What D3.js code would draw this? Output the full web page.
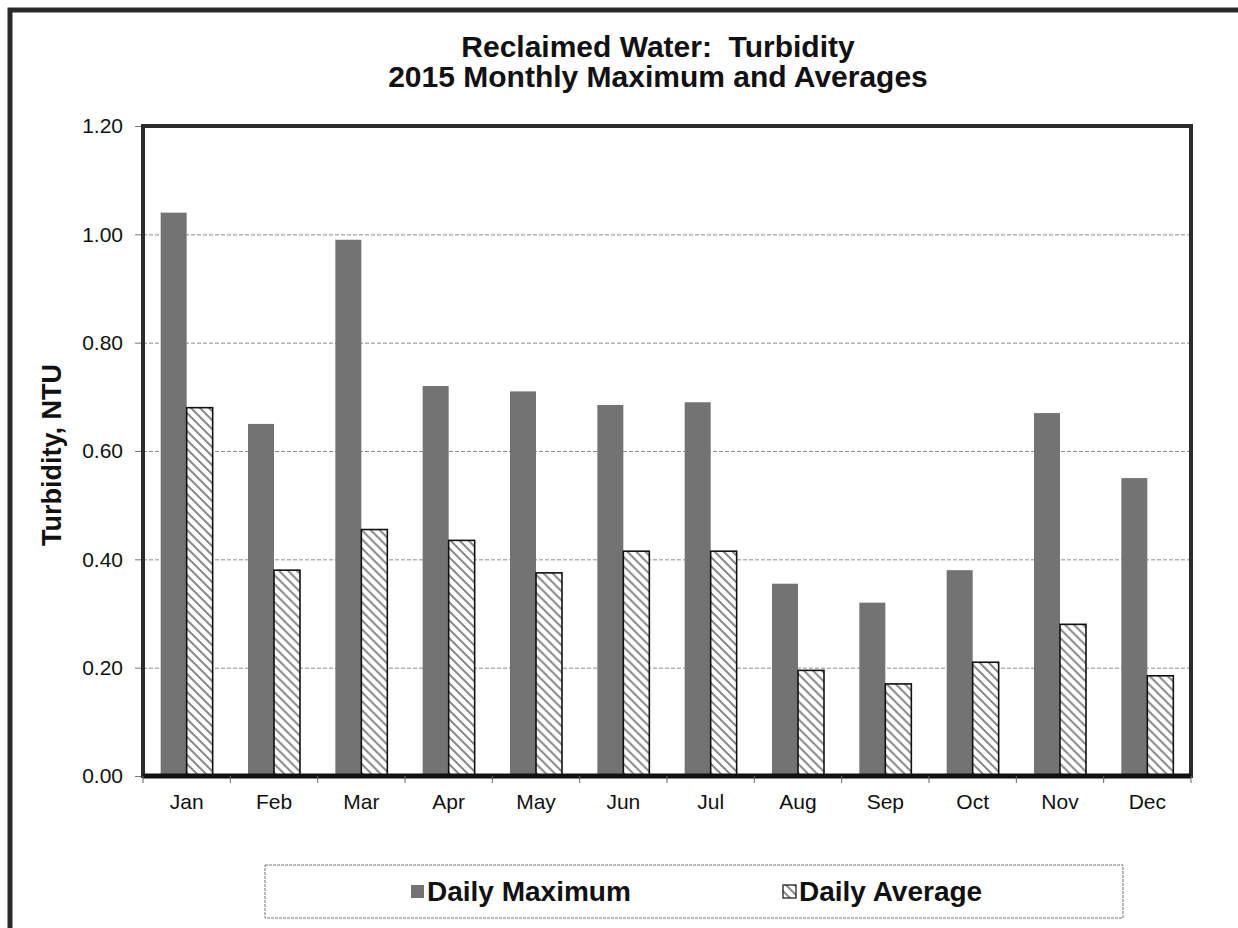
<!DOCTYPE html>
<html>
<head>
<meta charset="utf-8">
<script src="https://cdn.jsdelivr.net/npm/d3@7"></script>
<style>
  body { margin: 0; background: #fff; }
  svg { font-family: "Liberation Sans", Arial, sans-serif; display: block; }
</style>
</head>
<body>
<script>
// chart data
var months = ['Jan','Feb','Mar','Apr','May','Jun','Jul','Aug','Sep','Oct','Nov','Dec'];
var dailyMax = [1.04, 0.65, 0.99, 0.72, 0.71, 0.685, 0.69, 0.355, 0.32, 0.38, 0.67, 0.55];
var dailyAvg = [0.68, 0.38, 0.455, 0.435, 0.375, 0.415, 0.415, 0.195, 0.17, 0.21, 0.28, 0.185];
var yTicks = [0, 0.2, 0.4, 0.6, 0.8, 1.0, 1.2];
var seriesNames = ['Daily Maximum', 'Daily Average'];

var w = 1238, h = 928;
var svg = d3.select('body').append('svg').attr('width', w).attr('height', h);

// hatch pattern for the average bars
var defs = svg.append('defs');
var pat = defs.append('pattern')
  .attr('id', 'hatch')
  .attr('patternUnits', 'userSpaceOnUse')
  .attr('width', 9).attr('height', 9);
pat.append('rect').attr('width', 9).attr('height', 9).attr('fill', '#fff');
pat.append('path')
  .attr('d', 'M0,0 L9,9 M-2,7 L2,11 M7,-2 L11,2')
  .attr('stroke', '#8a8a8a').attr('stroke-width', 2);

// outer frame (runs off the right and bottom)
svg.append('rect')
  .attr('x', 10).attr('y', 10).attr('width', 1260).attr('height', 960)
  .attr('fill', 'none').attr('stroke', '#2a2a2a').attr('stroke-width', 5);

var plotL = 143, plotR = 1191, plotT = 126, plotB = 776;

var x = d3.scaleBand().domain(months).range([plotL, plotR]).padding(0);
var x1 = d3.scaleBand().domain(seriesNames).range([0, x.bandwidth()])
  .paddingInner(0).paddingOuter(0.68);
var y = d3.scaleLinear().domain([0, 1.2]).range([plotB, plotT]);

// gridlines
svg.append('g')
  .attr('transform', 'translate(' + plotL + ',0)')
  .call(d3.axisLeft(y).tickValues(yTicks.slice(1, -1)).tickSize(-(plotR - plotL)).tickFormat(''))
  .call(function(g){
    g.select('.domain').remove();
    g.selectAll('line').attr('stroke', '#8c8c8c').attr('stroke-width', 1).attr('stroke-dasharray', '4,2');
  });

// bars
var groups = svg.append('g').selectAll('g')
  .data(months)
  .enter().append('g')
  .attr('transform', function(d){ return 'translate(' + x(d) + ',0)'; });

groups.append('rect')
  .attr('x', x1('Daily Maximum'))
  .attr('width', x1.bandwidth())
  .attr('y', function(d, i){ return y(dailyMax[i]); })
  .attr('height', function(d, i){ return plotB - y(dailyMax[i]); })
  .attr('fill', '#737373');

groups.append('rect')
  .attr('x', x1('Daily Average'))
  .attr('width', x1.bandwidth())
  .attr('y', function(d, i){ return y(dailyAvg[i]); })
  .attr('height', function(d, i){ return plotB - y(dailyAvg[i]); })
  .attr('fill', 'url(#hatch)')
  .attr('stroke', '#111').attr('stroke-width', 1.6);

// plot frame
svg.append('rect')
  .attr('x', plotL).attr('y', plotT).attr('width', plotR - plotL).attr('height', plotB - plotT)
  .attr('fill', 'none').attr('stroke', '#2b2b2b').attr('stroke-width', 4);
svg.append('line')
  .attr('x1', plotL).attr('x2', plotR).attr('y1', plotB).attr('y2', plotB)
  .attr('stroke', '#111').attr('stroke-width', 5);

// y axis
svg.append('g')
  .attr('transform', 'translate(' + (plotL - 2) + ',0)')
  .call(d3.axisLeft(y).tickValues(yTicks).tickFormat(d3.format('.2f')).tickSize(6).tickPadding(12))
  .call(function(g){
    g.select('.domain').remove();
    g.selectAll('line').attr('stroke', '#777');
    g.selectAll('text').attr('font-size', 21).attr('fill', '#111')
      .attr('font-family', '"Liberation Sans", Arial, sans-serif');
  });

// x axis labels
svg.append('g')
  .attr('transform', 'translate(0,' + plotB + ')')
  .call(d3.axisBottom(x).tickSize(0).tickPadding(18))
  .call(function(g){
    g.select('.domain').remove();
    g.selectAll('text').attr('font-size', 21).attr('fill', '#111')
      .attr('font-family', '"Liberation Sans", Arial, sans-serif');
  });

// boundary ticks under the axis
svg.append('g').selectAll('line')
  .data(months.concat(['end']))
  .enter().append('line')
  .attr('x1', function(d, i){ return plotL + i * x.step(); })
  .attr('x2', function(d, i){ return plotL + i * x.step(); })
  .attr('y1', plotB).attr('y2', plotB + 7)
  .attr('stroke', '#666').attr('stroke-width', 1);

// titles
svg.append('text')
  .attr('x', 658).attr('y', 57)
  .attr('text-anchor', 'middle').attr('font-size', 30).attr('font-weight', 'bold').attr('fill', '#111')
  .style('white-space', 'pre')
  .text('Reclaimed Water:  Turbidity');
svg.append('text')
  .attr('x', 658).attr('y', 87)
  .attr('text-anchor', 'middle').attr('font-size', 30).attr('font-weight', 'bold').attr('fill', '#111')
  .text('2015 Monthly Maximum and Averages');

svg.append('text')
  .attr('transform', 'translate(61,455) rotate(-90)')
  .attr('text-anchor', 'middle').attr('font-size', 27).attr('font-weight', 'bold').attr('fill', '#111')
  .text('Turbidity, NTU');

// legend
var legend = svg.append('g');
legend.append('rect')
  .attr('x', 265).attr('y', 865).attr('width', 858).attr('height', 53)
  .attr('fill', '#fff').attr('stroke', '#777').attr('stroke-width', 1).attr('stroke-dasharray', '3,1');

var legendX = [411, 783];
var legendFill = ['#737373', 'url(#hatch)'];
seriesNames.forEach(function(name, i){
  legend.append('rect')
    .attr('x', legendX[i]).attr('y', 885).attr('width', 13).attr('height', 13)
    .attr('fill', legendFill[i])
    .attr('stroke', i === 1 ? '#111' : 'none').attr('stroke-width', 1.2);
  legend.append('text')
    .attr('x', legendX[i] + 16).attr('y', 901)
    .attr('font-size', 28).attr('font-weight', 'bold').attr('fill', '#111')
    .text(name);
});
</script>
</body>
</html>
